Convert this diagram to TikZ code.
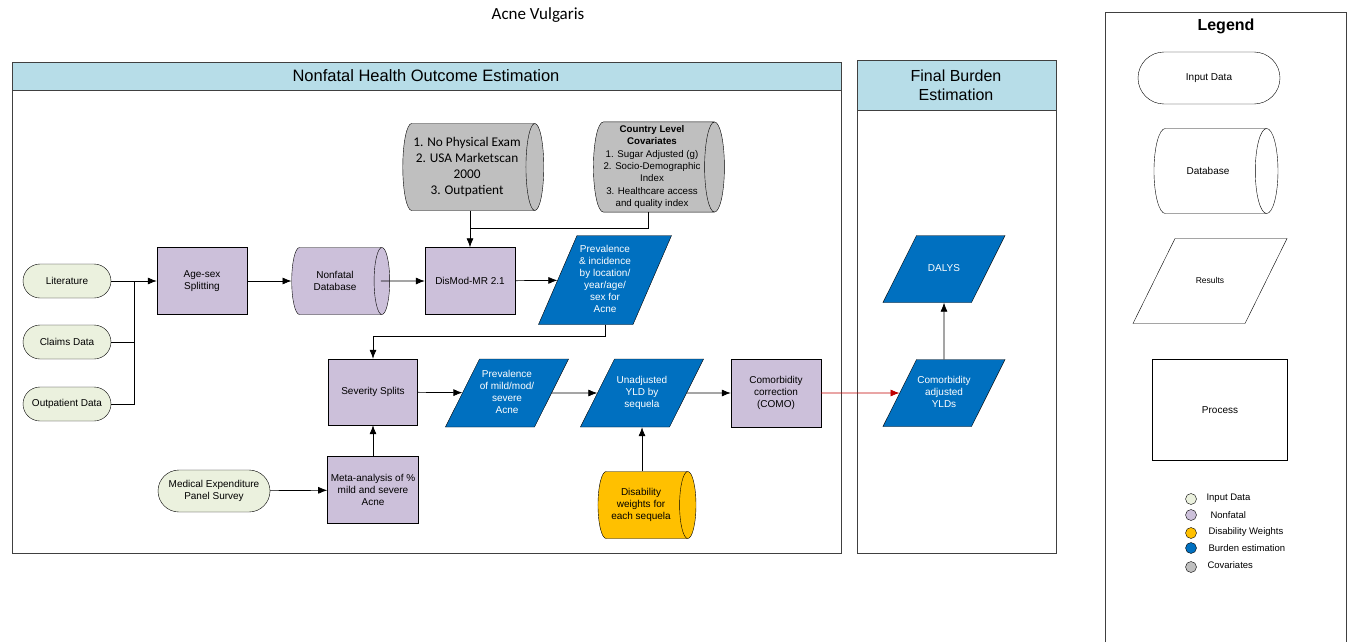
\documentclass[tikz,border=0pt]{standalone}
\usepackage{fontspec}
\setmainfont{Liberation Sans}
\newfontfamily\calibfont{Carlito}
\usetikzlibrary{shapes.geometric,positioning,arrows.meta}

\definecolor{hdrblue}{RGB}{183,221,232}
\definecolor{inputgreen}{RGB}{235,241,222}
\definecolor{nflav}{RGB}{204,192,218}
\definecolor{dwyellow}{RGB}{255,192,0}
\definecolor{burdenblue}{RGB}{0,112,192}
\definecolor{covgrey}{RGB}{191,191,191}
\definecolor{comored}{RGB}{192,0,0}

% text block of fixed size for the slanted result boxes
\newcommand{\paratext}[3]{\vbox to #1{\vfil\hbox to #2{\hss\begin{tabular}{@{}c@{}}#3\end{tabular}\hss}\vfil}}

\begin{document}
\begin{tikzpicture}[x=1pt, y=-1pt, >={Latex[length=9pt, width=7pt]},
    every node/.style={font=\fontsize{10}{12}\selectfont, align=center},
    inputbox/.style={draw, rounded corners=17pt, fill=inputgreen, minimum width=88pt, minimum height=34pt},
    procbox/.style={draw, fill=nflav, minimum width=90pt, minimum height=67pt},
    dbcyl/.style={draw, cylinder, shape border rotate=0, aspect=0.6, minimum width=67pt, minimum height=98pt},
    resultbox/.style={draw, trapezium, trapezium left angle=63.4, trapezium right angle=116.6,
        inner sep=0pt, fill=burdenblue, text=white},
    flow/.style={->, line width=0.7pt},
    legdot/.style={draw, circle, minimum size=11pt, inner sep=0pt},
    leglabel/.style={anchor=west, font=\fontsize{9.5}{11}\selectfont}
]

    % 0. Page frame and title
    \useasboundingbox (0,0) rectangle (1348,642);
    \node[font=\calibfont\fontsize{17}{20}\selectfont] (title) at (538,15) {Acne Vulgaris};

    % 1. Panels with coloured header bands
    \fill[hdrblue] (12,62) rectangle (841,90);
    \draw[line width=0.8pt, black!75] (12,62) rectangle (841,553);
    \draw[line width=0.8pt, black!75] (12,90) -- (841,90);
    \node[font=\fontsize{16.5}{19}\selectfont] (nfhead) at (426,76) {Nonfatal Health Outcome Estimation};

    \fill[hdrblue] (857,60) rectangle (1056,110);
    \draw[line width=0.8pt, black!75] (857,60) rectangle (1056,553);
    \draw[line width=0.8pt, black!75] (857,110) -- (1056,110);
    \node[font=\fontsize{16}{19}\selectfont] (fbhead) at (956,85) {Final Burden\\Estimation};

    % 2. Input data
    \node[inputbox] (lit)    at (67,281) {Literature};
    \node[inputbox] (claims) at (67,342) {Claims Data};
    \node[inputbox] (outp)   at (67,404) {Outpatient Data};
    \node[inputbox, minimum width=112pt, minimum height=42pt, rounded corners=21pt] (meps) at (214,491)
        {Medical Expenditure\\Panel Survey};

    % 3. Nonfatal processing
    \node[procbox] (agesex) at (202,281) {Age-sex\\Splitting};
    \node[dbcyl, fill=nflav] (nfdb) at (335,281) {Nonfatal\\Database};
    \node[procbox] (dismod) at (470,281) {DisMod-MR 2.1};
    \node[procbox, minimum width=89pt, minimum height=66pt] (sev) at (373,392) {Severity Splits};
    \node[procbox, minimum width=89pt, minimum height=67pt] (meta) at (373,490)
        {Meta-analysis of \%\\mild and severe\\Acne};
    \node[procbox, minimum height=68pt] (como) at (776,393) {Comorbidity\\correction\\(COMO)};

    % 4. Covariates
    \node[dbcyl, fill=covgrey, aspect=0.27, minimum width=87pt, minimum height=141pt,
        font=\calibfont\fontsize{13.3}{16}\selectfont] (exam) at (467,167)
        {1. No Physical Exam\\2. USA Marketscan\\2000\\3. Outpatient};
    \node[dbcyl, fill=covgrey, aspect=0.22, minimum width=87pt, minimum height=131pt,
        font=\fontsize{9.7}{12.4}\selectfont] (covar) at (652,167)
        {\textbf{Country Level}\\\textbf{Covariates}\\1. Sugar Adjusted (g)\\2. Socio-Demographic\\Index\\
         3. Healthcare access\\and quality index};

    % 5. Results
    \node[resultbox, trapezium left angle=66.6, trapezium right angle=113.4] (previnc) at (605,280)
        {\paratext{89pt}{56pt}{Prevalence\\\& incidence\\by location/\\year/age/\\sex for\\Acne}};
    \node[resultbox] (prevsev) at (507,393) {\paratext{68pt}{55pt}{Prevalence\\of mild/mod/\\severe\\Acne}};
    \node[resultbox] (yld) at (642,393) {\paratext{68pt}{55pt}{Unadjusted\\YLD by\\sequela}};
    \node[dbcyl, fill=dwyellow, aspect=0.41, minimum height=98pt] (dw) at (641,505)
        {Disability\\weights for\\each sequela};
    \node[resultbox] (adjyld) at (944,393) {\paratext{67pt}{55pt}{Comorbidity\\adjusted\\YLDs}};
    \node[resultbox] (dalys) at (944,269) {\paratext{67pt}{55pt}{DALYS}};

    % 6. Connectors
    \coordinate (jin) at (134,281);
    \draw[line width=0.7pt] (lit.east) -- (jin);
    \draw[line width=0.7pt] (claims.east) -| (jin);
    \draw[line width=0.7pt] (outp.east) -| (jin);
    \draw[flow] (jin) -- (agesex.west);
    \draw[flow] (agesex) -- (nfdb);
    \draw[flow] ([xshift=-9pt]nfdb.east) -- (dismod.west);
    \draw[flow] (dismod.north |- exam.south) -- (dismod.north);
    \draw[line width=0.7pt] ([xshift=-4pt]covar.south) |- (dismod.north |- 0,228);
    \draw[flow] (dismod) -- (previnc);
    \draw[flow] (previnc.south) -- ++(0,12) -| (sev.north);
    \draw[flow] (meps) -- (meta);
    \draw[flow] (meta) -- (sev);
    \draw[flow] (sev) -- (prevsev);
    \draw[flow] (prevsev) -- (yld);
    \draw[flow] (yld) -- (como);
    \draw[flow] (yld.south |- dw.north) -- (yld.south);
    \draw[flow, comored] (como) -- (adjyld);
    \draw[flow] (adjyld) -- (dalys);

    % 7. Legend
    \draw[line width=0.8pt, black!75] (1105,642) -- (1105,12) -- (1346,12) -- (1346,642);
    \node[font=\fontsize{16}{19}\selectfont\bfseries] (leghead) at (1226,26) {Legend};
    \node[draw, rounded corners=26pt, minimum width=142pt, minimum height=52pt] (leginput) at (1209,78) {Input Data};
    \node[dbcyl, aspect=1.62, minimum width=85pt, minimum height=124pt] (legdb) at (1208,171) {Database};
    \node[draw, trapezium, trapezium left angle=63.7, trapezium right angle=116.3, inner sep=0pt,
        font=\fontsize{8.5}{10}\selectfont] (legres) at (1210,281) {\paratext{85pt}{70pt}{Results}};
    \node[draw, minimum width=135pt, minimum height=101pt] (legproc) at (1220,410) {Process};

    \node[legdot, fill=inputgreen] (dot1) at (1191,499) {};
    \node[legdot, fill=nflav]      (dot2) at (1191,515) {};
    \node[legdot, fill=dwyellow]   (dot3) at (1191,533) {};
    \node[legdot, fill=burdenblue] (dot4) at (1191,548) {};
    \node[legdot, fill=covgrey]    (dot5) at (1191,567) {};
    \node[leglabel] (lab1) at (1203,498) {Input Data};
    \node[leglabel] (lab2) at (1207,515) {Nonfatal};
    \node[leglabel] (lab3) at (1205,532) {Disability Weights};
    \node[leglabel] (lab4) at (1205,548) {Burden estimation};
    \node[leglabel] (lab5) at (1204,565) {Covariates};

\end{tikzpicture}
\end{document}
